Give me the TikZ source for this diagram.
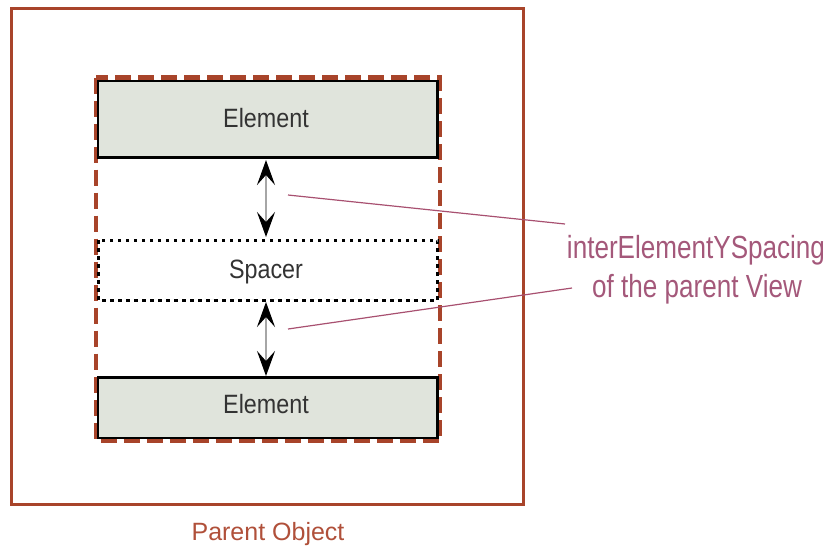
\documentclass[tikz,border=0pt]{standalone}
\usepackage{fontspec}
\setmainfont{Liberation Sans}
\newfontfamily\narrowfont[FakeStretch=0.88]{Liberation Sans}
\newfontfamily\notefont[FakeStretch=0.815]{Liberation Sans}
\usetikzlibrary{arrows.meta}
\definecolor{rust}{HTML}{A8442A}
\definecolor{rusttext}{HTML}{B0503A}
\definecolor{plum}{HTML}{A4587A}
\definecolor{plumline}{HTML}{A85070}
\definecolor{elemfill}{HTML}{E0E4DC}
\tikzset{
  parentbox/.style={draw=rust, line width=3pt},
  groupbox/.style={draw=rust, line width=4.5pt, dash pattern=on 16pt off 7pt},
  elembox/.style={draw=black, fill=elemfill, line width=2.5pt},
  spacerbox/.style={draw=black, line width=3pt, dash pattern=on 3.5pt off 4.5pt},
  boxtext/.style={anchor=base, font=\narrowfont\fontsize{26.5}{30}\selectfont, text=black!80},
  gap/.style={draw=black!35, line width=2.2pt, <->,
    >={Stealth[length=25pt, width=18pt, inset=10pt, fill=black, color=black]}},
  callout/.style={draw=plumline, line width=1.2pt},
  notetext/.style={anchor=base, font=\notefont\fontsize{32}{36}\selectfont, text=plum},
}
\begin{document}
\begin{tikzpicture}[x=1pt, y=-1pt]
  \useasboundingbox (0,0) rectangle (829,550);

  % parent object frame and the dashed group outline
  \draw[parentbox] (11.5,8.5) rectangle (523.5,504);
  \draw[groupbox] (96,77.5) rectangle (440,441);

  % stacked children
  \draw[elembox] (98,81) rectangle (437.5,157.5);
  \draw[spacerbox] (98,240) rectangle (437.5,300);
  \draw[elembox] (98,377.5) rectangle (437.5,438);

  \node[boxtext] (e1) at (266,127) {Element};
  \node[boxtext] (sp) at (266,278) {Spacer};
  \node[boxtext] (e2) at (266,413) {Element};

  % vertical spacing arrows
  \coordinate (a1t) at (266,160);
  \coordinate (a1b) at (266,237);
  \coordinate (a2t) at (266,302);
  \coordinate (a2b) at (266,376);
  \draw[gap] (a1t) -- (a1b);
  \draw[gap] (a2t) -- (a2b);

  % callout label and its leader lines
  \node[notetext] (lab1) at (696,258) {interElementYSpacing};
  \node[notetext] (lab2) at (697,297) {of the parent View};
  \coordinate (l1s) at (288,195);
  \coordinate (l1e) at (565,224);
  \coordinate (l2s) at (288,329);
  \coordinate (l2e) at (572,288);
  \draw[callout] (l1s) -- (l1e);
  \draw[callout] (l2s) -- (l2e);

  \node[anchor=base, font=\fontsize{25}{29}\selectfont, text=rusttext] (po) at (268,540) {Parent Object};
\end{tikzpicture}
\end{document}
